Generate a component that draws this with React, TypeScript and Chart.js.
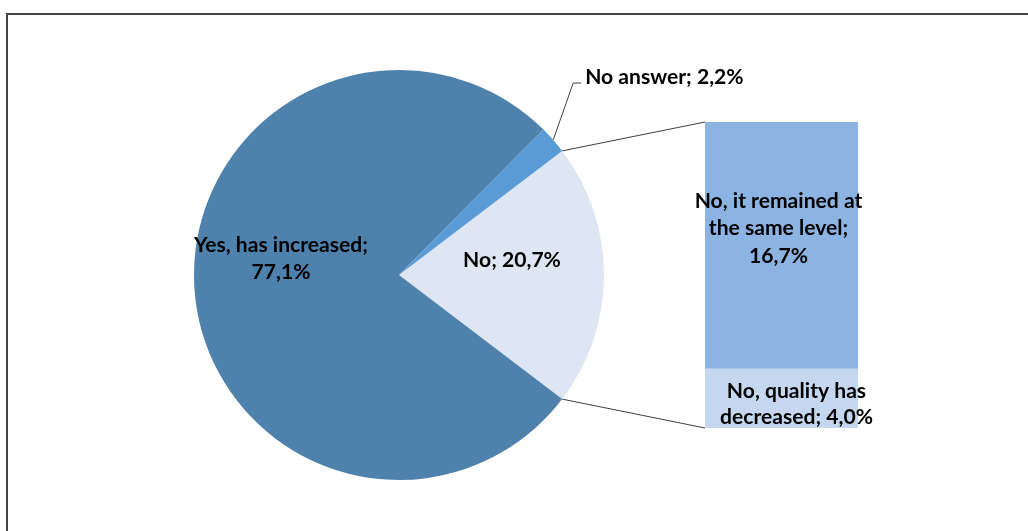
import React, { useEffect, useRef } from "react";
import { Chart, registerables } from "chart.js";

Chart.register(...registerables);

// ---- Data ----
const pieCategories = ["No", "Yes, has increased", "No answer"];
const pieValues = [20.7, 77.1, 2.2];
const pieLabelText = ["No; 20,7%", "Yes, has increased;\n77,1%", "No answer; 2,2%"];
const pieColors = ["#DDE6F2", "#4F81AD", "#5B9BD5"];

const barCategories = ["No, quality has decreased", "No, it remained at the same level"];
const barValues = [4.0, 16.7];
const barLabelText = ["No, quality has\ndecreased; 4,0%", "No, it remained at\nthe same level;\n16,7%"];
const barColors = ["#C4D7EE", "#8DB3E2"];

const W = 1028;
const H = 531;
const FONT_FAMILY = "Lato, 'Open Sans', sans-serif";

export default function App() {
  const pieRef = useRef<HTMLCanvasElement | null>(null);
  const barRef = useRef<HTMLCanvasElement | null>(null);

  useEffect(() => {
    if (!pieRef.current || !barRef.current) return;
    const total = pieValues.reduce((a, b) => a + b, 0);
    const rotation = 90 - ((pieValues[0] / total) * 360) / 2;

    const pie = new Chart(pieRef.current, {
      type: "pie",
      data: {
        labels: pieCategories,
        datasets: [
          {
            data: pieValues,
            backgroundColor: pieColors,
            borderWidth: 0,
            radius: 205,
            rotation,
          } as any,
        ],
      },
      options: {
        responsive: false,
        animation: false,
        devicePixelRatio: 1,
        layout: { padding: { left: 0, right: 230, top: 19, bottom: 0 } },
        plugins: { legend: { display: false }, tooltip: { enabled: false } },
      },
    });

    const barSum = barValues.reduce((a, b) => a + b, 0);

    const overlay = {
      id: "overlay",
      afterDraw(chart: any) {
        const ctx = chart.ctx as CanvasRenderingContext2D;
        const arcs = pie.getDatasetMeta(0).data as any[];
        const bars0 = chart.getDatasetMeta(0).data[0] as any;
        const bars1 = chart.getDatasetMeta(1).data[0] as any;
        const noArc = arcs[0];
        const cx = noArc.x;
        const cy = noArc.y;
        const r = noArc.outerRadius;

        ctx.save();
        // connectors
        ctx.strokeStyle = "#3f3f3f";
        ctx.lineWidth = 1;
        const barLeft = bars1.x - bars1.width / 2;
        const barTop = bars1.y;
        const barBottom = bars0.base;
        const p1 = { x: cx + Math.cos(noArc.startAngle) * r, y: cy + Math.sin(noArc.startAngle) * r };
        const p2 = { x: cx + Math.cos(noArc.endAngle) * r, y: cy + Math.sin(noArc.endAngle) * r };
        ctx.beginPath();
        ctx.moveTo(p1.x, p1.y);
        ctx.lineTo(barLeft, barTop);
        ctx.moveTo(p2.x, p2.y);
        ctx.lineTo(barLeft, barBottom);
        ctx.stroke();

        // font fitting
        ctx.font = `bold 20px ${FONT_FAMILY}`;
        const mw = ctx.measureText("No, it remained at").width;
        const fs = Math.round((20 * 168) / mw * 10) / 10;
        ctx.font = `bold ${fs}px ${FONT_FAMILY}`;
        ctx.fillStyle = "#000";
        ctx.textBaseline = "middle";
        ctx.textAlign = "center";

        const drawLines = (text: string, x: number, y: number, lh: number) => {
          text.split("\n").forEach((line, i) => ctx.fillText(line, x, y + i * lh));
        };

        // pie labels
        drawLines(pieLabelText[0], cx + 113, cy - 15, 27);
        drawLines(pieLabelText[1], cx - 118, cy - 30, 27);

        // no answer label with leader
        const na = arcs[2];
        const mid = (na.startAngle + na.endAngle) / 2;
        const ps = { x: cx + Math.cos(mid) * r, y: cy + Math.sin(mid) * r };
        ctx.beginPath();
        ctx.moveTo(ps.x, ps.y);
        ctx.lineTo(ps.x + 20, 83);
        ctx.lineTo(ps.x + 28, 83);
        ctx.stroke();
        ctx.textAlign = "left";
        ctx.fillText(pieLabelText[2], ps.x + 32, 77);

        // bar labels
        ctx.textAlign = "center";
        drawLines(barLabelText[1], bars1.x - 3, barTop + 79, 27.5);
        drawLines(barLabelText[0], bars0.x + 15, bars0.y + 22, 26);
        ctx.restore();
      },
    };

    const bar = new Chart(barRef.current, {
      type: "bar",
      data: {
        labels: [""],
        datasets: [
          { label: barCategories[0], data: [barValues[0]], backgroundColor: barColors[0], borderWidth: 0, barPercentage: 1, categoryPercentage: 1 },
          { label: barCategories[1], data: [barValues[1]], backgroundColor: barColors[1], borderWidth: 0, barPercentage: 1, categoryPercentage: 1 },
        ],
      },
      options: {
        responsive: false,
        animation: false,
        devicePixelRatio: 1,
        layout: { padding: { left: 705, right: W - 858, top: 122, bottom: H - 428 } },
        scales: {
          x: { display: false, stacked: true },
          y: { display: false, stacked: true, min: 0, max: barSum },
        },
        plugins: { legend: { display: false }, tooltip: { enabled: false } },
      },
      plugins: [overlay],
    });

    return () => {
      bar.destroy();
      pie.destroy();
    };
  }, []);

  return (
    <div
      style={{
        position: "fixed",
        left: 0,
        top: 0,
        width: W,
        height: H,
        background: "#fff",
        overflow: "hidden",
      }}
    >
      <div
        style={{
          position: "absolute",
          left: 6,
          top: 13,
          width: 1100,
          height: 600,
          borderLeft: "2px solid #454545",
          borderTop: "2px solid #454545",
        }}
      />
      <canvas ref={pieRef} width={W} height={H} style={{ position: "absolute", left: 0, top: 0 }} />
      <canvas ref={barRef} width={W} height={H} style={{ position: "absolute", left: 0, top: 0 }} />
    </div>
  );
}
